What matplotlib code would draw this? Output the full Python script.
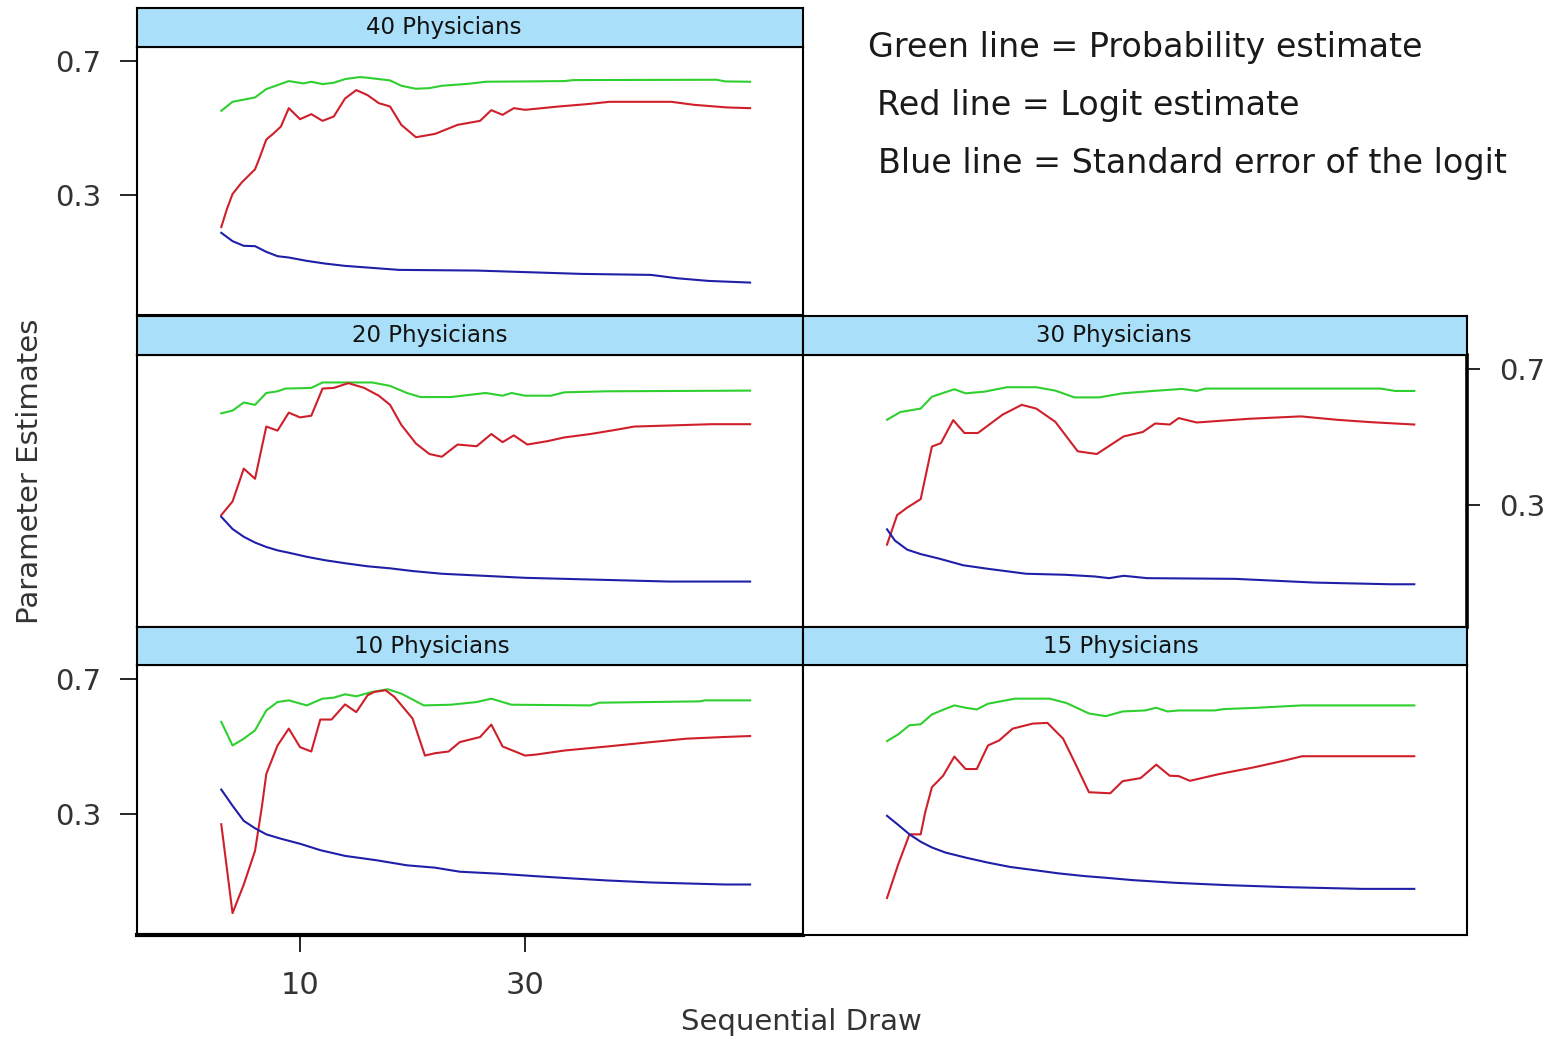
import matplotlib.pyplot as plt

# --- data (draw number, estimate) ---
# 40 Physicians
p40_gx = [3, 4, 6, 7, 9, 10.3, 11, 12, 13, 14, 15.3, 16, 18, 19, 20.3, 21.5, 22.6, 25, 26.5, 33.5, 34.3, 47, 47.8, 50]
p40_gy = [0.551, 0.578, 0.591, 0.616, 0.640, 0.633, 0.638, 0.631, 0.635, 0.646, 0.652, 0.650, 0.642, 0.626,
          0.617, 0.619, 0.626, 0.632, 0.638, 0.640, 0.643, 0.644, 0.639, 0.638]
p40_rx = [3, 3.5, 4, 4.8, 6, 6.4, 7, 7.7, 8.3, 9, 10, 11, 12, 13, 14, 15, 16, 17, 18, 19, 20.3, 22, 24, 26,
          27, 28, 29, 30, 33, 35.5, 37.5, 43, 45, 48, 50]
p40_ry = [0.203, 0.257, 0.302, 0.336, 0.376, 0.410, 0.465, 0.485, 0.504, 0.559, 0.526, 0.541, 0.521, 0.534,
          0.588, 0.613, 0.598, 0.574, 0.564, 0.509, 0.472, 0.482, 0.509, 0.521, 0.553, 0.539, 0.559, 0.554,
          0.564, 0.571, 0.578, 0.578, 0.569, 0.561, 0.559]
p40_bx = [3, 4, 5, 6, 7, 8, 9, 10.6, 12.2, 14, 16.4, 18.8, 25.7, 35, 41.2, 43.5, 46.3, 50]
p40_by = [0.186, 0.161, 0.147, 0.146, 0.129, 0.116, 0.112, 0.102, 0.094, 0.087, 0.081, 0.075, 0.073, 0.063,
          0.060, 0.050, 0.042, 0.037]

# 20 Physicians
p20_gx = [3, 4, 5, 6, 7, 8, 8.7, 11, 12, 14, 16.4, 18, 19.5, 20.7, 23.4, 26.5, 28, 28.8, 30, 32.3, 33.5, 37.3, 50]
p20_gy = [0.570, 0.578, 0.602, 0.595, 0.630, 0.635, 0.643, 0.645, 0.661, 0.661, 0.661, 0.651, 0.630, 0.618,
          0.618, 0.630, 0.622, 0.630, 0.622, 0.622, 0.632, 0.635, 0.637]
p20_rx = [3, 4, 5, 6, 7, 8, 9, 10, 11, 12, 13, 14.3, 15.7, 17, 18, 19, 20.3, 21.5, 22.6, 24, 25.7, 27, 28,
          29, 30.2, 32, 33.5, 35.8, 38, 39.7, 46.6, 50]
p20_ry = [0.270, 0.310, 0.407, 0.377, 0.531, 0.519, 0.572, 0.558, 0.563, 0.643, 0.645, 0.659, 0.645, 0.622,
          0.595, 0.536, 0.481, 0.450, 0.442, 0.478, 0.473, 0.509, 0.485, 0.505, 0.478, 0.488, 0.499, 0.509,
          0.521, 0.531, 0.538, 0.538]
p20_bx = [3, 4, 5, 6, 7, 8, 9, 10.6, 12.2, 14, 16, 18, 20, 22.6, 25.7, 30, 35.8, 42.8, 50]
p20_by = [0.265, 0.229, 0.206, 0.189, 0.176, 0.166, 0.159, 0.147, 0.137, 0.128, 0.119, 0.113, 0.105, 0.097,
          0.092, 0.085, 0.080, 0.074, 0.074]

# 30 Physicians
p30_gx = [3, 4.2, 6, 7, 9, 10, 11.7, 13.7, 16.3, 18, 19.7, 21.9, 24, 26.7, 29.3, 30.6, 31.4, 47, 48.3, 50]
p30_gy = [0.551, 0.574, 0.584, 0.619, 0.641, 0.629, 0.634, 0.647, 0.647, 0.637, 0.617, 0.617, 0.629, 0.636,
          0.642, 0.636, 0.643, 0.643, 0.636, 0.636]
p30_rx = [3, 3.9, 4.8, 6, 7, 7.8, 8.9, 9.9, 11.1, 13.3, 15, 16.3, 18, 20, 21.7, 24.1, 25.8, 26.9, 28.2, 29,
          30.6, 35.3, 39.9, 43.1, 46.1, 50]
p30_ry = [0.183, 0.270, 0.292, 0.317, 0.472, 0.482, 0.550, 0.512, 0.512, 0.566, 0.595, 0.584, 0.545, 0.458,
          0.450, 0.502, 0.515, 0.540, 0.537, 0.556, 0.543, 0.554, 0.561, 0.551, 0.544, 0.537]
p30_bx = [3, 3.7, 4.8, 6, 7.6, 9.8, 11.9, 15.4, 18.9, 21.5, 22.8, 24.1, 26.2, 34, 41.1, 47.9, 50]
p30_by = [0.228, 0.195, 0.168, 0.155, 0.142, 0.122, 0.112, 0.097, 0.094, 0.089, 0.084, 0.091, 0.084, 0.082,
          0.071, 0.066, 0.066]

# 10 Physicians
p10_gx = [3, 4, 5, 6, 7, 8, 9, 10.6, 12, 13, 14, 15, 16.4, 17.8, 19, 21, 23.4, 25.7, 27, 28.8, 35.8, 36.6,
          45.5, 46, 50]
p10_gy = [0.573, 0.503, 0.523, 0.548, 0.607, 0.632, 0.637, 0.622, 0.642, 0.645, 0.655, 0.649, 0.662, 0.670,
          0.657, 0.622, 0.624, 0.632, 0.642, 0.624, 0.622, 0.630, 0.634, 0.637, 0.637]
p10_rx = [3, 4, 5, 6, 6.6, 7, 8, 9, 10, 11, 11.8, 12.8, 14, 15, 16, 16.6, 17.6, 18.4, 20, 21.1, 22, 23.2,
          24.2, 26, 27, 28, 30, 31, 33.5, 37.3, 41.2, 44.3, 47.6, 50]
p10_ry = [0.269, 0.005, 0.090, 0.190, 0.319, 0.418, 0.503, 0.553, 0.498, 0.485, 0.580, 0.580, 0.625, 0.602,
          0.652, 0.662, 0.667, 0.647, 0.583, 0.473, 0.480, 0.485, 0.513, 0.528, 0.565, 0.500, 0.473, 0.476,
          0.488, 0.500, 0.513, 0.523, 0.528, 0.531]
p10_bx = [3, 4, 5, 6, 7, 8.3, 10, 11.8, 14, 16.8, 19.5, 22, 24.2, 27.7, 30.8, 34.2, 37.3, 41.2, 47.8, 50]
p10_by = [0.372, 0.324, 0.279, 0.257, 0.239, 0.226, 0.211, 0.192, 0.175, 0.162, 0.147, 0.140, 0.128, 0.122,
          0.115, 0.108, 0.102, 0.096, 0.090, 0.090]

# 15 Physicians
p15_gx = [3, 4, 5, 6, 7, 8, 9, 10, 11, 12, 14.4, 17.5, 19, 21, 22.5, 24, 26, 27, 28, 29, 32.2, 33, 36, 40, 50]
p15_gy = [0.516, 0.536, 0.563, 0.566, 0.595, 0.609, 0.622, 0.615, 0.610, 0.627, 0.642, 0.642, 0.629, 0.598,
          0.590, 0.604, 0.607, 0.615, 0.604, 0.607, 0.607, 0.611, 0.615, 0.622, 0.622]
p15_rx = [3, 4, 5, 6, 6.4, 7, 8, 9, 10, 11, 12, 13, 14.2, 16, 17.3, 18.7, 19.8, 21, 22.9, 24, 25.6, 27, 28.2,
          29, 30, 32.6, 35.7, 38.4, 40, 50]
p15_ry = [0.050, 0.150, 0.239, 0.239, 0.304, 0.379, 0.413, 0.470, 0.433, 0.433, 0.503, 0.518, 0.553, 0.568,
          0.570, 0.523, 0.448, 0.364, 0.361, 0.397, 0.406, 0.446, 0.413, 0.412, 0.398, 0.418, 0.438, 0.458,
          0.471, 0.471]
p15_bx = [3, 4, 5, 6, 7, 8.2, 10, 12, 14, 16.3, 18.3, 20.6, 22.5, 24.9, 28.7, 33.4, 38.8, 45.4, 50]
p15_by = [0.294, 0.267, 0.239, 0.217, 0.200, 0.185, 0.170, 0.155, 0.142, 0.132, 0.123, 0.115, 0.110, 0.103,
          0.095, 0.088, 0.082, 0.077, 0.077]

y_ticks = [0.7, 0.3]
x_ticks = [10, 30]

legend_lines = ["Green line = Probability estimate",
                "Red line = Logit estimate",
                "Blue line = Standard error of the logit"]

GREEN, RED, BLUE = "#2fcf2f", "#cf1f2a", "#1f1fa8"
STRIP = "#a9dff8"

W, H = 1555, 1043


def box(left, top, w, h):
    return [left / W, 1 - (top + h) / H, w / W, h / H]


fig = plt.figure(figsize=(W / 100, H / 100), dpi=100)

# title, panel box, strip box, label centre (fraction of strip), series
panels = [
    ("40 Physicians", (137, 47, 666, 268), (137, 8, 666, 39), 0.46,
     (p40_gx, p40_gy), (p40_rx, p40_ry), (p40_bx, p40_by)),
    ("20 Physicians", (137, 355, 666, 272), (137, 316, 666, 39), 0.44,
     (p20_gx, p20_gy), (p20_rx, p20_ry), (p20_bx, p20_by)),
    ("30 Physicians", (803, 355, 664, 272), (803, 316, 664, 39), 0.468,
     (p30_gx, p30_gy), (p30_rx, p30_ry), (p30_bx, p30_by)),
    ("10 Physicians", (137, 665, 666, 270), (137, 627, 666, 38), 0.443,
     (p10_gx, p10_gy), (p10_rx, p10_ry), (p10_bx, p10_by)),
    ("15 Physicians", (803, 665, 664, 270), (803, 627, 664, 38), 0.478,
     (p15_gx, p15_gy), (p15_rx, p15_ry), (p15_bx, p15_by)),
]

axes = {}
for title, pbox, sbox, lx, g, r, b in panels:
    ax = fig.add_axes(box(*pbox))
    ax.plot(*g, color=GREEN, lw=1.5)
    ax.plot(*r, color=RED, lw=1.5)
    ax.plot(*b, color=BLUE, lw=1.5)
    ax.set_xlim(-4.49, 54.7)
    ax.set_ylim(-0.06, 0.742)
    ax.set_xticks([])
    ax.set_yticks([])
    for s in ax.spines.values():
        s.set_linewidth(1.5)
    axes[title] = ax

    sx = fig.add_axes(box(*sbox))
    sx.set_facecolor(STRIP)
    sx.set_xticks([])
    sx.set_yticks([])
    for s in sx.spines.values():
        s.set_linewidth(1.5)
    sx.text(lx, 0.5, title, transform=sx.transAxes, ha="center", va="center",
            fontsize=16.5, color="#111111")

# left y ticks (rows 1 and 3)
for name in ["40 Physicians", "10 Physicians"]:
    ax = axes[name]
    ax.set_yticks(y_ticks)
    ax.set_yticklabels([f"{v:.1f}" for v in y_ticks])
    ax.tick_params(axis="y", length=12, width=1.2, pad=14, labelsize=21,
                   labelcolor="#333333")

# right y ticks (row 2)
ax = axes["30 Physicians"]
ax.yaxis.tick_right()
ax.set_yticks(y_ticks)
ax.set_yticklabels([f"{v:.1f}" for v in y_ticks])
ax.tick_params(axis="y", length=9, width=1.2, pad=14, labelsize=21, labelcolor="#333333")
ax.spines["right"].set_linewidth(2.6)

# bottom x ticks
ax = axes["10 Physicians"]
ax.set_xticks(x_ticks)
ax.set_xticklabels([str(v) for v in x_ticks])
ax.tick_params(axis="x", length=12, width=1.2, pad=14, labelsize=22, labelcolor="#333333")
ax.spines["bottom"].set_linewidth(3)

fig.text(30 / W, 1 - 471 / H, "Parameter Estimates", rotation=90, ha="center", va="center",
         fontsize=21, color="#333333")
fig.text(801 / W, 1 - 1022 / H, "Sequential Draw", ha="center", va="center",
         fontsize=21, color="#333333")

for (txt, (x, y)) in zip(legend_lines, [(868, 48), (877, 106), (878, 163)]):
    fig.text(x / W, 1 - y / H, txt, ha="left", va="center", fontsize=24, color="#1a1a1a")

fig.savefig("out.png", dpi=100)
